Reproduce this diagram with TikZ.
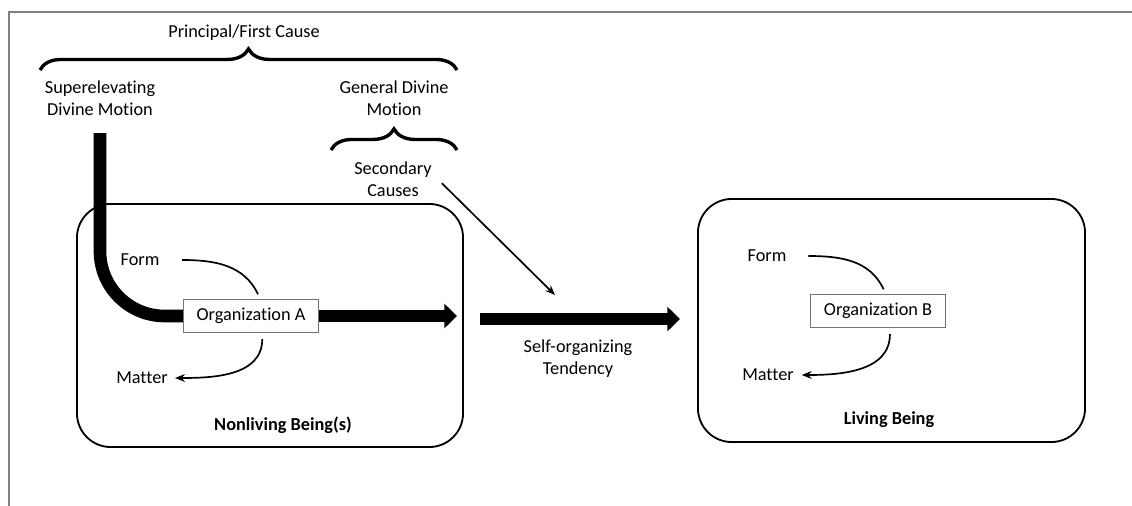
\documentclass[tikz,border=0pt]{standalone}
\usepackage{fontspec}
\setmainfont{Carlito}[Ligatures=NoCommon]
\usetikzlibrary{arrows.meta,decorations.pathreplacing}

\begin{document}
\begin{tikzpicture}[x=0.025cm,y=-0.025cm]
  \tikzset{
    txt/.style={font=\fontsize{13}{15.6}\selectfont,align=center,inner sep=2pt},
    lbl/.style={txt,font=\fontsize{13}{15.6}\selectfont\bfseries},
    being/.style={draw,line width=1.3pt,rounded corners=24pt},
    orgbox/.style={txt,draw=black!55,line width=0.8pt,minimum width=96pt,minimum height=24pt},
    bigarrow/.style={line width=9pt,-{Triangle[length=9pt,width=17pt]}},
    thinarrow/.style={line width=1.2pt,-{Stealth[length=7pt,width=5.5pt]}},
    cbrace/.style={decorate,decoration={brace,amplitude=15pt},line width=2.4pt}
  }
  \useasboundingbox (0,0) rectangle (1132,506);

  % screenshot frame
  \draw[black!50,line width=1.4pt] (9,506) -- (9,12) -- (1132,12);

  % causes
  \node[txt] (pfc) at (244,33) {Principal/First Cause};
  \node[txt] (sdm) at (100,98) {Superelevating\\Divine Motion};
  \node[txt] (gdm) at (394,98) {General Divine\\Motion};
  \node[txt] (sc) at (393,179) {Secondary\\Causes};

  \coordinate (bigL) at (40,70);
  \coordinate (bigR) at (457,70);
  \draw[cbrace] (bigL) -- (bigR);
  \coordinate (smallL) at (331,150);
  \coordinate (smallR) at (457,150);
  \draw[cbrace] (smallL) -- (smallR);

  % beings
  \node[being,minimum width=9.65cm,minimum height=6.075cm] (nonliving) at (270,325.5) {};
  \node[being,minimum width=9.675cm,minimum height=6.075cm] (living) at (891.5,320.5) {};
  \node[lbl] (nlb) at (283,425) {Nonliving Being(s)};
  \node[lbl] (lb) at (889,420) {Living Being};

  \node[orgbox] (orgA) at (251,316) {Organization A};
  \node[orgbox] (orgB) at (878,311) {Organization B};

  \node[txt] (formA) at (140,260) {Form};
  \node[txt] (matterA) at (142,378) {Matter};
  \node[txt] (formB) at (767,256) {Form};
  \node[txt] (matterB) at (768,375) {Matter};

  % form and matter
  \draw[line width=1.2pt] ([xshift=14pt]formA.east) to[out=0,in=115] ([xshift=5pt,yshift=3pt]orgA.north);
  \draw[thinarrow] ([xshift=8pt,yshift=-4pt]orgA.south) to[out=-90,in=0] ([xshift=3pt]matterA.east);
  \draw[line width=1.2pt] ([xshift=13.5pt]formB.east) to[out=0,in=115] ([xshift=4pt,yshift=3pt]orgB.north);
  \draw[thinarrow] ([xshift=8.5pt,yshift=-4pt]orgB.south) to[out=-90,in=0] ([xshift=3.5pt]matterB.east);

  % motion
  \coordinate (sdmfoot) at (100,133);
  \draw[line width=9pt,rounded corners=46pt] (sdmfoot) |- (orgA.west);
  \coordinate (tipA) at (457,316);
  \draw[bigarrow] (orgA.east) -- (tipA);

  \coordinate (soL) at (480,319);
  \coordinate (soR) at (680,319);
  \draw[bigarrow] (soL) -- (soR);
  \node[txt] (sot) at (578,359) {Self-organizing\\Tendency};

  \coordinate (scTip) at (555,295);
  \draw[thinarrow] ([xshift=5pt,yshift=-3pt]sc.east) -- (scTip);
\end{tikzpicture}
\end{document}
